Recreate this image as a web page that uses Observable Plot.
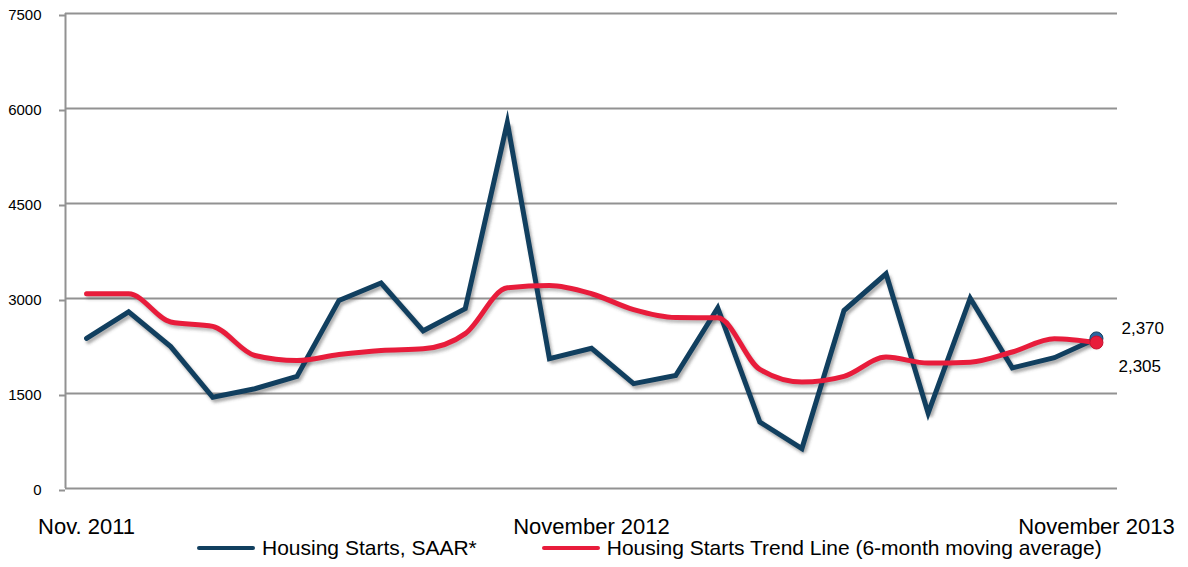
<!DOCTYPE html>
<html>
<head>
<meta charset="utf-8">
<script src="https://cdn.jsdelivr.net/npm/d3@7"></script>
<script src="https://cdn.jsdelivr.net/npm/@observablehq/plot@0.6"></script>
<style>
  html, body { margin: 0; padding: 0; background: #fff; }
  body { width: 1188px; height: 567px; overflow: hidden; font-family: "Liberation Sans", Arial, sans-serif; position: relative; }
  #chart { position: absolute; left: 0; top: 0; }
  #legend { position: absolute; left: 197px; top: 537px; height: 22px; display: flex; align-items: center; font-size: 21px; line-height: 22px; color: #000; white-space: nowrap; }
  .sw { display: inline-block; width: 58px; height: 4px; border-radius: 2px; margin-right: 7px; }
  .item { display: flex; align-items: center; }
</style>
</head>
<body>
<div id="chart"></div>
<div id="legend">
  <span class="item"><span class="sw" style="background:#113f5f"></span><span id="lg1"></span></span>
  <span class="item" style="margin-left:65px"><span class="sw" style="background:#e81c3b"></span><span id="lg2"></span></span>
</div>
<script>
const months = ["2011-11","2011-12","2012-01","2012-02","2012-03","2012-04","2012-05","2012-06","2012-07","2012-08","2012-09","2012-10","2012-11","2012-12","2013-01","2013-02","2013-03","2013-04","2013-05","2013-06","2013-07","2013-08","2013-09","2013-10","2013-11"];
const saar  = [2370, 2790, 2240, 1440, 1575, 1770, 2970, 3245, 2490, 2840, 5780, 2050, 2215, 1655, 1785, 2850, 1050, 630, 2810, 3390, 1190, 3005, 1905, 2065, 2370];
const trend = [3075, 3075, 2630, 2560, 2100, 2020, 2115, 2180, 2205, 2445, 3170, 3205, 3075, 2825, 2700, 2695, 1880, 1680, 1770, 2075, 1980, 1995, 2155, 2365, 2305];
const xTickIndex = [0, 12, 24];
const xTickLabels = ["Nov. 2011", "November 2012", "November 2013"];
const yTicks = [0, 1500, 3000, 4500, 6000, 7500];
const seriesNames = ["Housing Starts, SAAR*", "Housing Starts Trend Line (6-month moving average)"];
const endLabels = ["2,370", "2,305"];

document.getElementById("lg1").textContent = seriesNames[0];
document.getElementById("lg2").textContent = seriesNames[1];

const saarData = months.map((m, i) => ({i, m, v: saar[i]}));
const trendData = months.map((m, i) => ({i, m, v: trend[i]}));
const last = months.length - 1;

const BLUE = "#113f5f", RED = "#e81c3b", GRID = "#929292";

const svg = Plot.plot({
  width: 1188,
  height: 541,
  marginTop: 13,
  marginBottom: 53,
  marginLeft: 65,
  marginRight: 71,
  style: {fontFamily: "'Liberation Sans', Arial, sans-serif", color: "#000", background: "transparent"},
  x: {domain: [-0.5, last + 0.5], axis: null},
  y: {domain: [0, 7500], axis: null},
  marks: [
    Plot.ruleY(yTicks, {stroke: GRID, strokeWidth: 2}),
    Plot.ruleX([-0.5], {stroke: GRID, strokeWidth: 2}),
    Plot.axisY({ticks: yTicks, tickSize: 6, tickPadding: 18, fontSize: 15, dy: 2, stroke: GRID, strokeWidth: 2, tickFormat: d => String(d), label: null}),
    Plot.axisX({ticks: xTickIndex, tickSize: 0, tickPadding: 30, fontSize: 22, tickFormat: d => xTickLabels[xTickIndex.indexOf(d)], label: null}),
    // shadows
    Plot.line(saarData, {x: "i", y: "v", stroke: "#444", strokeOpacity: 0.45, strokeWidth: 5, dx: 2, dy: 3, strokeLinejoin: "miter"}),
    Plot.line(trendData, {x: "i", y: "v", stroke: "#444", strokeOpacity: 0.35, strokeWidth: 5, dx: 2, dy: 3, curve: "monotone-x"}),
    // series
    Plot.line(saarData, {x: "i", y: "v", stroke: BLUE, strokeWidth: 5, strokeLinejoin: "miter", strokeMiterlimit: 6}),
    Plot.line(trendData, {x: "i", y: "v", stroke: RED, strokeWidth: 5, curve: "monotone-x"}),
    Plot.dot([saarData[last]], {x: "i", y: "v", r: 6.5, fill: "#2a64a0", stroke: BLUE, strokeWidth: 1}),
    Plot.dot([trendData[last]], {x: "i", y: "v", r: 6.5, fill: RED, stroke: "#c8102e", strokeWidth: 1}),
    Plot.text([saarData[last]], {x: "i", y: "v", text: () => endLabels[0], textAnchor: "start", dx: 25, dy: -10, fontSize: 17, fill: "#000"}),
    Plot.text([trendData[last]], {x: "i", y: "v", text: () => endLabels[1], textAnchor: "start", dx: 22, dy: 24, fontSize: 17, fill: "#000"})
  ]
});

// soft blur for the shadow lines
const defs = d3.select(svg).insert("defs", ":first-child");
defs.append("filter").attr("id", "shadowBlur").attr("x", "-5%").attr("y", "-5%").attr("width", "110%").attr("height", "110%")
  .append("feGaussianBlur").attr("stdDeviation", 1.6);
const lineGroups = d3.select(svg).selectAll('g[aria-label="line"]').nodes();
lineGroups.slice(0, 2).forEach(g => g.setAttribute("filter", "url(#shadowBlur)"));

document.getElementById("chart").appendChild(svg);
</script>
</body>
</html>
